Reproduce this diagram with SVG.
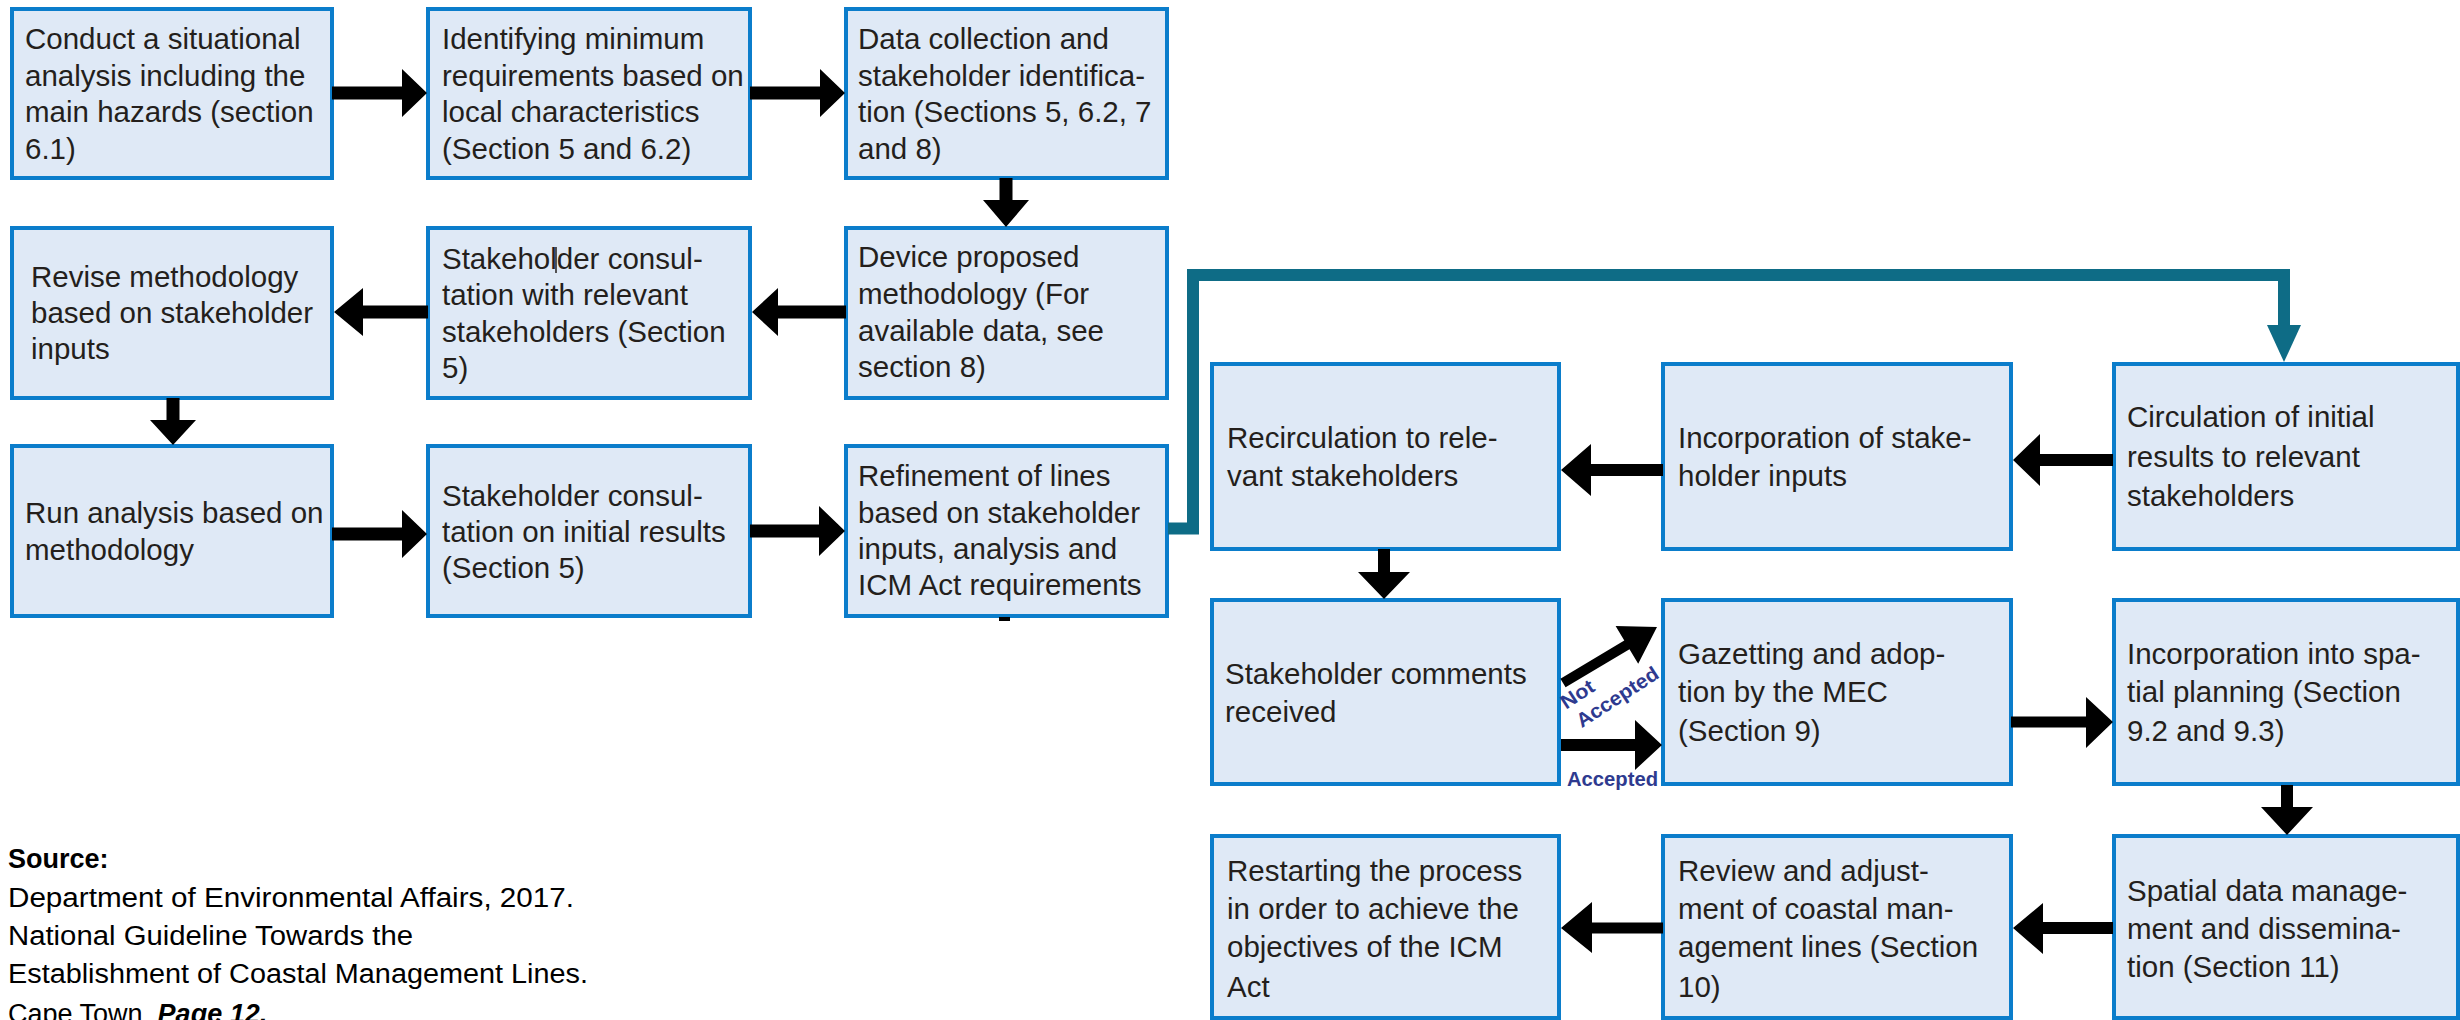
<svg xmlns="http://www.w3.org/2000/svg" width="2460" height="1020" viewBox="0 0 2460 1020">
<style>
.box{fill:#DFE9F6;stroke:#0B7DCB;stroke-width:4}
.t{font-family:"Liberation Sans",Arial,sans-serif;font-size:29.5px;fill:#241F1C}
.arr{fill:#000}
.lbl{font-family:"Liberation Sans",Arial,sans-serif;font-size:20px;font-weight:bold;fill:#2E3A8F}
.src{font-family:"Liberation Sans",Arial,sans-serif;font-size:27px;fill:#000}
</style>
<rect width="2460" height="1020" fill="#fff"/>
<g id="n1"><rect class="box" x="12" y="9" width="320" height="169"/>
<text class="t"><tspan x="25" y="49">Conduct a situational</tspan><tspan x="25" y="85.5">analysis including the</tspan><tspan x="25" y="122">main hazards (section</tspan><tspan x="25" y="158.5">6.1)</tspan></text></g>
<g id="n2"><rect class="box" x="428" y="9" width="322" height="169"/>
<text class="t"><tspan x="442" y="49">Identifying minimum</tspan><tspan x="442" y="85.5">requirements based on</tspan><tspan x="442" y="122">local characteristics</tspan><tspan x="442" y="158.5">(Section 5 and 6.2)</tspan></text></g>
<g id="n3"><rect class="box" x="846" y="9" width="321" height="169"/>
<text class="t"><tspan x="858" y="49">Data collection and</tspan><tspan x="858" y="85.5">stakeholder identifica-</tspan><tspan x="858" y="122">tion (Sections 5, 6.2, 7</tspan><tspan x="858" y="158.5">and 8)</tspan></text></g>
<g id="n4"><rect class="box" x="12" y="228" width="320" height="170"/>
<text class="t"><tspan x="31" y="287">Revise methodology</tspan><tspan x="31" y="323">based on stakeholder</tspan><tspan x="31" y="359">inputs</tspan></text></g>
<g id="n5"><rect class="box" x="428" y="228" width="322" height="170"/>
<text class="t"><tspan x="442" y="269">Stakeholder consul-</tspan><tspan x="442" y="305">tation with relevant</tspan><tspan x="442" y="342">stakeholders (Section</tspan><tspan x="442" y="378">5)</tspan></text>
<line x1="556" y1="247" x2="556" y2="273" stroke="#241F1C" stroke-width="1.5"/></g>
<g id="n6"><rect class="box" x="846" y="228" width="321" height="170"/>
<text class="t"><tspan x="858" y="267">Device proposed</tspan><tspan x="858" y="304">methodology (For</tspan><tspan x="858" y="341">available data, see</tspan><tspan x="858" y="377">section 8)</tspan></text></g>
<g id="n7"><rect class="box" x="12" y="446" width="320" height="170"/>
<text class="t"><tspan x="25" y="523">Run analysis based on</tspan><tspan x="25" y="560">methodology</tspan></text></g>
<g id="n8"><rect class="box" x="428" y="446" width="322" height="170"/>
<text class="t"><tspan x="442" y="506">Stakeholder consul-</tspan><tspan x="442" y="542">tation on initial results</tspan><tspan x="442" y="578">(Section 5)</tspan></text></g>
<g id="n9"><rect class="box" x="846" y="446" width="321" height="170"/>
<text class="t"><tspan x="858" y="486">Refinement of lines</tspan><tspan x="858" y="523">based on stakeholder</tspan><tspan x="858" y="559">inputs, analysis and</tspan><tspan x="858" y="595">ICM Act requirements</tspan></text></g>
<g id="n10"><rect class="box" x="1212" y="364" width="347" height="185"/>
<text class="t"><tspan x="1227" y="448">Recirculation to rele-</tspan><tspan x="1227" y="486">vant stakeholders</tspan></text></g>
<g id="n11"><rect class="box" x="1663" y="364" width="348" height="185"/>
<text class="t"><tspan x="1678" y="448">Incorporation of stake-</tspan><tspan x="1678" y="486">holder inputs</tspan></text></g>
<g id="n12"><rect class="box" x="2114" y="364" width="344" height="185"/>
<text class="t"><tspan x="2127" y="427">Circulation of initial</tspan><tspan x="2127" y="467">results to relevant</tspan><tspan x="2127" y="506">stakeholders</tspan></text></g>
<g id="n13"><rect class="box" x="1212" y="600" width="347" height="184"/>
<text class="t"><tspan x="1225" y="684">Stakeholder comments</tspan><tspan x="1225" y="722">received</tspan></text></g>
<g id="n14"><rect class="box" x="1663" y="600" width="348" height="184"/>
<text class="t"><tspan x="1678" y="664">Gazetting and adop-</tspan><tspan x="1678" y="702">tion by the MEC</tspan><tspan x="1678" y="741">(Section 9)</tspan></text></g>
<g id="n15"><rect class="box" x="2114" y="600" width="344" height="184"/>
<text class="t"><tspan x="2127" y="664">Incorporation into spa-</tspan><tspan x="2127" y="702">tial planning (Section</tspan><tspan x="2127" y="741">9.2 and 9.3)</tspan></text></g>
<g id="n16"><rect class="box" x="1212" y="836" width="347" height="182"/>
<text class="t"><tspan x="1227" y="881">Restarting the process</tspan><tspan x="1227" y="919">in order to achieve the</tspan><tspan x="1227" y="957">objectives of the ICM</tspan><tspan x="1227" y="997">Act</tspan></text></g>
<g id="n17"><rect class="box" x="1663" y="836" width="348" height="182"/>
<text class="t"><tspan x="1678" y="881">Review and adjust-</tspan><tspan x="1678" y="919">ment of coastal man-</tspan><tspan x="1678" y="957">agement lines (Section</tspan><tspan x="1678" y="997">10)</tspan></text></g>
<g id="n18"><rect class="box" x="2114" y="836" width="344" height="182"/>
<text class="t"><tspan x="2127" y="901">Spatial data manage-</tspan><tspan x="2127" y="939">ment and dissemina-</tspan><tspan x="2127" y="977">tion (Section 11)</tspan></text></g>
<g id="connectors">
<polygon class="arr" points="332,86.5 402,86.5 402,69 427,93 402,117 402,99.5 332,99.5"/>
<polygon class="arr" points="750,86.5 820,86.5 820,69 845,93 820,117 820,99.5 750,99.5"/>
<polygon class="arr" points="999.5,178 1012.5,178 1012.5,200 1029,200 1006,227 983,200 999.5,200"/>
<polygon class="arr" points="846,305.5 778,305.5 778,288 752,312 778,336 778,318.5 846,318.5"/>
<polygon class="arr" points="428,305.5 363,305.5 363,288 334,312 363,336 363,318.5 428,318.5"/>
<polygon class="arr" points="166.5,398 179.5,398 179.5,420 196,420 173,445 150,420 166.5,420"/>
<polygon class="arr" points="332,527.5 402,527.5 402,510 427,534 402,558 402,540.5 332,540.5"/>
<polygon class="arr" points="750,524.5 819,524.5 819,506 845,531 819,556 819,537.5 750,537.5"/>
<rect class="arr" x="999" y="617" width="11" height="4"/>
<polyline points="1168,528.5 1193,528.5 1193,275 2284,275 2284,330" fill="none" stroke="#0E6C86" stroke-width="12" stroke-linejoin="miter"/>
<polygon points="2267,325 2301,325 2284,362" fill="#0E6C86"/>
<polygon class="arr" points="2113,454 2040,454 2040,434 2013,460 2040,486 2040,466 2113,466"/>
<polygon class="arr" points="1663,464 1591,464 1591,444 1561,470 1591,496 1591,476 1663,476"/>
<polygon class="arr" points="1378,549 1390,549 1390,572 1410,572 1384,599 1358,572 1378,572"/>
<polygon class="arr" points="1560.4,678.7 1624.3,640.6 1615.6,626 1657,627 1638.2,663.8 1629.5,649.2 1565.6,687.3"/>
<polygon class="arr" points="1561,739 1635,739 1635,720 1662,745 1635,770 1635,751 1561,751"/>
<polygon class="arr" points="2011,716.5 2086,716.5 2086,697 2113,722 2086,748 2086,727.5 2011,727.5"/>
<polygon class="arr" points="2281,785 2293,785 2293,807 2313,807 2287,835 2261,807 2281,807"/>
<polygon class="arr" points="2113,922 2043,922 2043,903 2013,928 2043,954 2043,934 2113,934"/>
<polygon class="arr" points="1663,922.5 1592,922.5 1592,902 1561,928 1592,953 1592,933.5 1663,933.5"/>
<g transform="translate(1581.7,728.3) rotate(-33)"><text class="lbl" x="-3" y="-24" textLength="36" lengthAdjust="spacingAndGlyphs">Not</text><text class="lbl" x="0" y="0" textLength="94" lengthAdjust="spacingAndGlyphs">Accepted</text></g>
<text class="lbl" x="1567" y="786" textLength="91" lengthAdjust="spacingAndGlyphs">Accepted</text>
</g>
<g id="source">
<text class="src" x="8" y="868" font-weight="bold">Source:</text>
<text class="src" x="8" y="907" textLength="566" lengthAdjust="spacingAndGlyphs">Department of Environmental Affairs, 2017.</text>
<text class="src" x="8" y="945" textLength="405" lengthAdjust="spacingAndGlyphs">National Guideline Towards the</text>
<text class="src" x="8" y="983" textLength="580" lengthAdjust="spacingAndGlyphs">Establishment of Coastal Management Lines.</text>
<text class="src" x="8" y="1023">Cape Town. <tspan font-weight="bold" font-style="italic">Page 12.</tspan></text>
</g>
</svg>
